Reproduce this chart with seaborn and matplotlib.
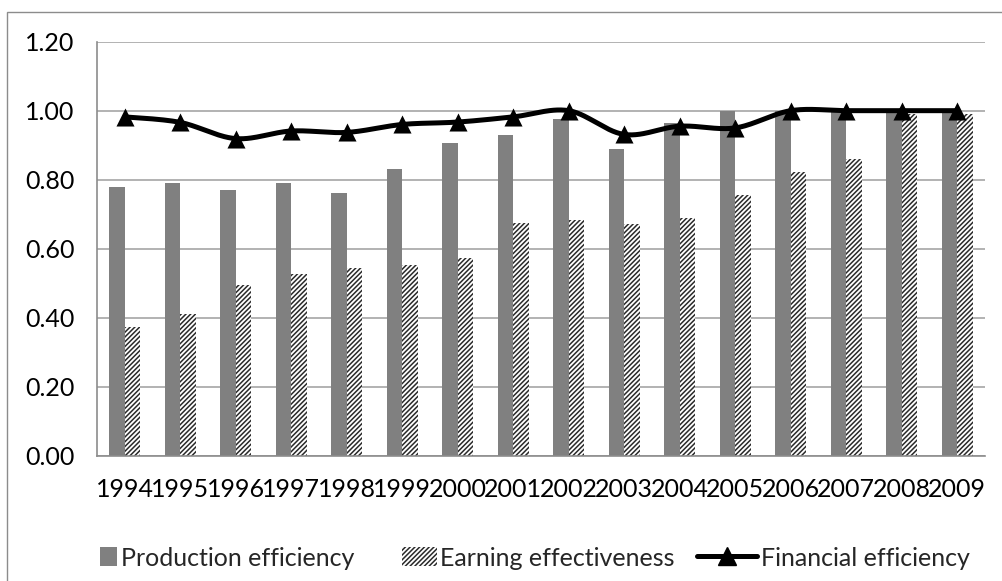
import numpy as np
import pandas as pd
import matplotlib
matplotlib.use("Agg")
import matplotlib.pyplot as plt
from matplotlib.lines import Line2D
from matplotlib.patches import Patch, Rectangle
from matplotlib.legend_handler import HandlerPatch
import seaborn as sns

# Efficiency scores by year
years = ["1994", "1995", "1996", "1997", "1998", "1999", "2000", "2001",
         "2002", "2003", "2004", "2005", "2006", "2007", "2008", "2009"]
production = [0.78, 0.79, 0.77, 0.79, 0.76, 0.83, 0.905, 0.93,
              0.975, 0.89, 0.965, 1.00, 1.00, 1.00, 1.00, 1.00]
earning = [0.373, 0.409, 0.494, 0.525, 0.545, 0.551, 0.574, 0.674,
           0.682, 0.671, 0.689, 0.755, 0.823, 0.861, 0.99, 0.99]
financial = [0.982, 0.966, 0.919, 0.941, 0.937, 0.960, 0.967, 0.982,
             1.00, 0.931, 0.955, 0.950, 1.00, 1.00, 1.00, 1.00]
series_names = ["Production efficiency", "Earning effectiveness", "Financial efficiency"]
y_ticks = [0.0, 0.2, 0.4, 0.6, 0.8, 1.0, 1.2]

sns.set_style("white")
plt.rcParams["font.family"] = ["Lato", "DejaVu Sans"]
plt.rcParams["hatch.linewidth"] = 1.1

GRID = "#a6a6a6"
BAR = "#808080"
HATCH = "#2a2a2a"
HATCH_PATTERN = "///////"
FS = 18

bars = pd.DataFrame({
    "year": years * 2,
    "series": [series_names[0]] * len(years) + [series_names[1]] * len(years),
    "value": production + earning,
})

fig = plt.figure(figsize=(10.03, 5.81), dpi=100)
ax = fig.add_axes([97 / 1003, 1 - 455.5 / 581, (985 - 97) / 1003, (455.5 - 41.7) / 581])

sns.barplot(data=bars, x="year", y="value", hue="series",
            hue_order=series_names[:2], palette=[BAR, "white"],
            width=0.56, dodge=True, gap=0, saturation=1,
            legend=False, errorbar=None, ax=ax, zorder=2)

for bar in ax.containers[0]:
    bar.set_linewidth(0)
for bar in ax.containers[1]:
    bar.set_hatch(HATCH_PATTERN)
    bar.set_edgecolor(HATCH)
    bar.set_linewidth(0)

# Smoothed financial-efficiency curve (cubic Bezier through each point)
xs = np.arange(len(financial), dtype=float)
ys = np.asarray(financial, dtype=float)
path_x, path_y = [], []
t = np.linspace(0, 1, 30)
for i in range(len(xs) - 1):
    p0 = np.array([xs[i], ys[i]])
    p3 = np.array([xs[i + 1], ys[i + 1]])
    prev = np.array([xs[i - 1], ys[i - 1]]) if i > 0 else p0
    nxt = np.array([xs[i + 2], ys[i + 2]]) if i + 2 < len(xs) else p3
    p1 = p0 + (p3 - prev) / 6
    p2 = p3 - (nxt - p0) / 6
    seg = ((1 - t)[:, None] ** 3) * p0 + 3 * ((1 - t) ** 2 * t)[:, None] * p1 \
        + 3 * ((1 - t) * t ** 2)[:, None] * p2 + (t ** 3)[:, None] * p3
    path_x.extend(seg[:, 0])
    path_y.extend(seg[:, 1])
ax.plot(path_x, path_y, color="black", lw=3.6, zorder=4, solid_capstyle="round")
sns.scatterplot(x=xs, y=ys, marker="^", s=13 ** 2, color="black",
                edgecolor="black", linewidth=0, ax=ax, zorder=5, legend=False)

ax.set_ylim(0, 1.2)
ax.set_xlim(-0.5, len(years) - 0.5)
ax.set_yticks(y_ticks)
ax.set_yticklabels([f"{v:.2f}" for v in y_ticks])
ax.set_xlabel("")
ax.set_ylabel("")
ax.grid(axis="y", color=GRID, lw=1.2, zorder=0)
ax.grid(axis="x", visible=False)
ax.set_axisbelow(True)
for side in ["top", "right"]:
    ax.spines[side].set_visible(False)
for side in ["left", "bottom"]:
    ax.spines[side].set_color("#8c8c8c")
    ax.spines[side].set_linewidth(1.2)
ax.tick_params(axis="both", length=0, labelsize=FS, colors="black")
ax.tick_params(axis="y", pad=16)
ax.tick_params(axis="x", pad=16)


def right_box(frac_w, frac_h):
    """Legend key drawn as a box hugging the right end of the handle area."""
    def make(legend, orig_handle, xdescent, ydescent, width, height, fontsize):
        w = width * frac_w
        h = height * frac_h
        return Rectangle((width - w - xdescent, (height - h) / 2 - ydescent), w, h)
    return make


square_key = Patch(facecolor=BAR, linewidth=0)
hatch_key = Patch(facecolor="white", edgecolor=HATCH, hatch=HATCH_PATTERN, linewidth=0)
line_key = Line2D([], [], color="black", lw=3.6, marker="^", markersize=13)

fig.legend([square_key, hatch_key, line_key], series_names,
           loc="center", bbox_to_anchor=(0.512, 1 - 558 / 581),
           ncol=3, frameon=False, fontsize=FS, handlelength=2.4,
           handleheight=0.8, columnspacing=0.9, handletextpad=0.15,
           handler_map={square_key: HandlerPatch(patch_func=right_box(0.28, 1.0)),
                        hatch_key: HandlerPatch(patch_func=right_box(0.58, 1.0))})

fig.add_artist(Rectangle((7 / 1003, -0.05), 1.2, 1.05 - 12 / 581,
                         transform=fig.transFigure, fill=False,
                         edgecolor="#8c8c8c", lw=1.0))

fig.savefig("out.png", dpi=100)
